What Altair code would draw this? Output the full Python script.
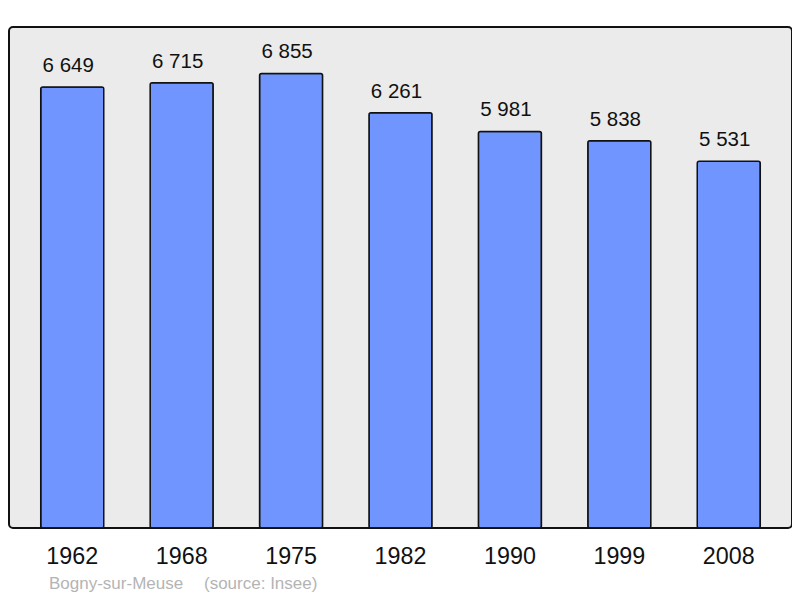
import altair as alt
import pandas as pd

years = ["1962", "1968", "1975", "1982", "1990", "1999", "2008"]
population = [6649, 6715, 6855, 6261, 5981, 5838, 5531]
labels = [f"{v:,}".replace(",", " ") for v in population]

df = pd.DataFrame({"year": years, "pop": population, "label": labels})

W, H = 783, 501

xscale = alt.Scale(domain=years, paddingInner=0.424, paddingOuter=0.29)
yscale = alt.Scale(domain=[0, 7555], nice=False, zero=True)

base = alt.Chart(df)

bars = base.mark_bar(
    color="#7095ff", stroke="#111111", strokeWidth=1.5, cornerRadius=2
).encode(
    x=alt.X("year:N", scale=xscale, sort=years,
            axis=alt.Axis(title=None, labelAngle=0, domain=False, ticks=False, tickSize=0,
                          labelFontSize=23.3, labelColor="#111111", labelFont="Liberation Sans",
                          labelPadding=17, labelBaseline="top")),
    y=alt.Y("pop:Q", scale=yscale, axis=None),
)

text = base.mark_text(
    fontSize=20.5, font="Liberation Sans", color="#111111", baseline="alphabetic", dy=-15, dx=-4
).encode(
    x=alt.X("year:N", scale=xscale, sort=years),
    y=alt.Y("pop:Q", scale=yscale),
    text="label:N",
)

foot1 = alt.Chart(pd.DataFrame({"t": ["Bogny-sur-Meuse"]})).mark_text(
    fontSize=17, font="Liberation Sans", color="#b4b4b4", align="left", baseline="alphabetic"
).encode(x=alt.value(40), y=alt.value(562), text="t:N")

foot2 = alt.Chart(pd.DataFrame({"t": ["(source: Insee)"]})).mark_text(
    fontSize=17, font="Liberation Sans", color="#b4b4b4", align="left", baseline="alphabetic"
).encode(x=alt.value(195), y=alt.value(562), text="t:N")

chart = alt.layer(bars, text, foot1, foot2).properties(
    width=W, height=H,
    padding={"left": 1, "top": 19, "right": 0, "bottom": 64},
    autosize=alt.AutoSizeParams(type="none"),
).configure_view(
    fill="#ebebeb", stroke="#111111", strokeWidth=2, cornerRadius=4
)

chart.save("out.html", embed_options={"renderer": "svg", "actions": False})
